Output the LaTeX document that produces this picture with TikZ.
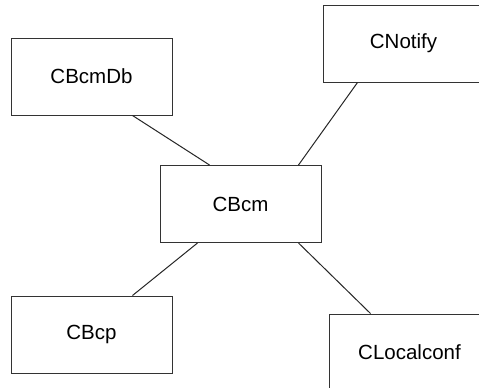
\documentclass[tikz,border=0pt]{standalone}
\usepackage{fontspec}
\setmainfont{Liberation Sans}
\usetikzlibrary{calc}
\begin{document}
\begin{tikzpicture}[x=1pt,y=-1pt,
  cls/.style={draw=black!80,line width=1pt,rectangle,minimum width=161pt,minimum height=77pt,inner sep=0pt,font=\fontsize{20.5}{24}\selectfont},
  link/.style={draw=black!85,line width=1pt}]
\clip (0,0) rectangle (479,388);
\useasboundingbox (0,0) rectangle (479,388);
\node[cls] (db) at (91.5,76.5) {CBcmDb};
\node[cls] (notify) at (403.5,43.5) {CNotify};
\node[cls] (bcm) at (240.5,204) {CBcm};
\node[cls] (bcp) at (91.5,334.5) {CBcp};
\node[cls] (local) at (409.5,352.5) {CLocalconf};
\draw[link] ($(db.south west)+(122,0)$) -- ($(bcm.north west)+(50,0)$);
\draw[link] ($(notify.south west)+(35,0)$) -- ($(bcm.north west)+(139,0)$);
\draw[link] ($(bcm.south west)+(38,0)$) -- ($(bcp.north west)+(122,0)$);
\draw[link] ($(bcm.south west)+(139,0)$) -- ($(local.north west)+(42,0)$);
\end{tikzpicture}
\end{document}
